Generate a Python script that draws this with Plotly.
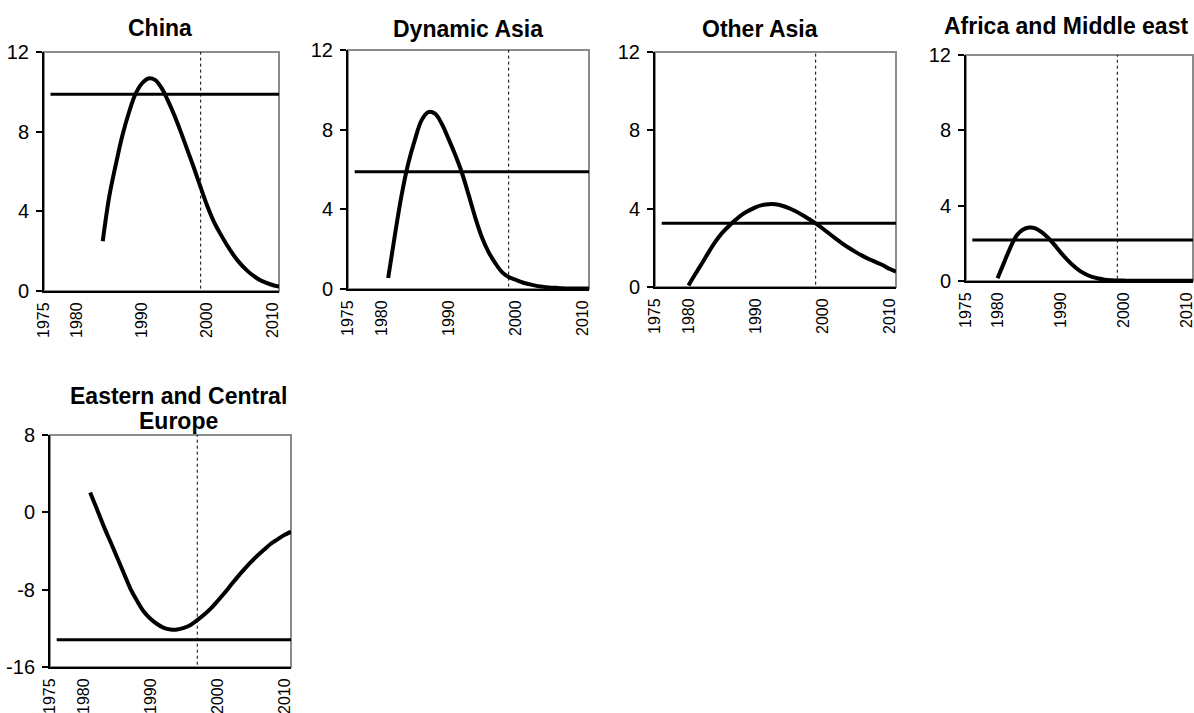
import plotly.graph_objects as go

# ---------------- data ----------------
regions = ["China", "Dynamic Asia", "Other Asia", "Africa and Middle east",
           "Eastern and Central Europe"]

china_years = list(range(1984, 2012))
china_values = [2.5, 4.75, 6.35, 7.8, 8.95, 9.88, 10.42, 10.67, 10.6, 10.2,
                9.55, 8.8, 7.95, 7.05, 6.15, 5.2, 4.28, 3.5, 2.88, 2.32, 1.82,
                1.4, 1.06, 0.78, 0.57, 0.42, 0.3, 0.22]

dynamic_years = list(range(1981, 2012))
dynamic_values = [0.55, 2.7, 4.7, 6.3, 7.5, 8.48, 8.88, 8.8, 8.3, 7.55, 6.75,
                  5.85, 4.75, 3.6, 2.6, 1.85, 1.3, 0.85, 0.6, 0.47, 0.34, 0.25,
                  0.17, 0.12, 0.08, 0.06, 0.04, 0.03, 0.03, 0.02, 0.02]

other_years = list(range(1980, 2012))
other_values = [0.08, 0.65, 1.2, 1.77, 2.3, 2.75, 3.1, 3.42, 3.7, 3.9, 4.07,
                4.18, 4.23, 4.22, 4.15, 4.03, 3.87, 3.68, 3.47, 3.25, 3.0,
                2.73, 2.47, 2.22, 1.99, 1.78, 1.59, 1.42, 1.27, 1.12, 0.93,
                0.78]

africa_years = list(range(1980, 2012))
africa_values = [0.15, 0.95, 1.75, 2.4, 2.72, 2.84, 2.8, 2.6, 2.3, 1.93, 1.52,
                 1.15, 0.82, 0.55, 0.36, 0.22, 0.13, 0.07, 0.04, 0.03, 0.02,
                 0.01, 0.01, 0.01, 0.01, 0.01, 0.01, 0.01, 0.01, 0.01, 0.01,
                 0.01]

europe_years = list(range(1981, 2012))
europe_values = [2.05, 0.35, -1.4, -3.0, -4.62, -6.25, -7.88, -9.15, -10.25,
                 -11.0, -11.55, -11.95, -12.12, -12.12, -11.95, -11.65,
                 -11.15, -10.6, -9.97, -9.2, -8.4, -7.55, -6.7, -5.9, -5.15,
                 -4.47, -3.85, -3.25, -2.8, -2.35, -2.0]

# long-run average (horizontal line) for each region
average_values = [9.88, 5.89, 3.26, 2.18, -13.17]
average_start = 1976
average_end = 2011

# year of the dotted vertical marker
marker_years = [1999, 1999, 1999, 1999, 1997]

x_ticks = [1975, 1980, 1990, 2000, 2010]
x_range = [1975, 2011]
y_ranges = [[0, 12], [0, 12], [0, 12], [0, 12], [-16, 8]]
y_ticks = [[0, 4, 8, 12], [0, 4, 8, 12], [0, 4, 8, 12], [0, 4, 8, 12],
           [-16, -8, 0, 8]]

series_years = [china_years, dynamic_years, other_years, africa_years,
                europe_years]
series_values = [china_values, dynamic_values, other_values, africa_values,
                 europe_values]

# ---------------- layout geometry (pixels) ----------------
W, H = 1194, 713
boxes = [  # left, right, top, bottom
    (44, 279, 52, 291),
    (348, 589, 50, 289),
    (655, 896, 52, 287),
    (966, 1193, 55, 281),
    (50, 291, 435, 667),
]
title_lines = [["China"], ["Dynamic Asia"], ["Other Asia"],
               ["Africa and Middle east"], ["Eastern and Central", "Europe"]]
title_x = [160, 468, 760, 1066, 178]
title_y = [[28], [29], [29], [25.5], [396, 421]]

FONT = "Liberation Sans, Arial, sans-serif"

fig = go.Figure()
shapes = []
annotations = []
layout_axes = {}

for i in range(5):
    n = "" if i == 0 else str(i + 1)
    xa, ya = "x" + n, "y" + n
    l, r, t, b = boxes[i]

    fig.add_trace(go.Scatter(
        x=series_years[i], y=series_values[i], mode="lines",
        line=dict(color="black", width=4, shape="spline", smoothing=1.0),
        xaxis=xa, yaxis=ya, showlegend=False, hoverinfo="skip"))
    fig.add_trace(go.Scatter(
        x=[average_start, average_end],
        y=[average_values[i], average_values[i]], mode="lines",
        line=dict(color="black", width=3),
        xaxis=xa, yaxis=ya, showlegend=False, hoverinfo="skip"))

    layout_axes["xaxis" + n] = dict(
        domain=[l / W, r / W], anchor=ya, range=x_range, automargin=False,
        tickmode="array", tickvals=x_ticks,
        ticktext=[str(v) for v in x_ticks], tickangle=-90,
        ticks="", showgrid=False, zeroline=False,
        showline=True, linecolor="black", linewidth=2,
        ticklabelstandoff=3, ticklabeloverflow="allow",
        tickfont=dict(family=FONT, size=16, color="black"))
    layout_axes["yaxis" + n] = dict(
        domain=[1 - b / H, 1 - t / H], anchor=xa, range=y_ranges[i],
        automargin=False,
        tickmode="array", tickvals=y_ticks[i],
        ticktext=[str(v) for v in y_ticks[i]],
        ticks="outside", ticklen=6, tickwidth=2, tickcolor="black",
        showgrid=False, zeroline=False,
        showline=True, linecolor="black", linewidth=2,
        ticklabelstandoff=3, ticklabeloverflow="allow",
        tickfont=dict(family=FONT, size=20, color="black"))

    # grey frame (top/right visible)
    shapes.append(dict(type="rect", xref=xa + " domain", yref=ya + " domain",
                       x0=0, x1=1, y0=0, y1=1, layer="below",
                       line=dict(color="#8c8c8c", width=2)))
    # dotted marker line
    shapes.append(dict(type="line", xref=xa, yref=ya + " domain",
                       x0=marker_years[i], x1=marker_years[i], y0=0.01,
                       y1=1, layer="above",
                       line=dict(color="black", width=1, dash="dot")))

    for txt, ty in zip(title_lines[i], title_y[i]):
        annotations.append(dict(
            text="<b>" + txt + "</b>", xref="paper", yref="paper",
            x=title_x[i] / W, y=1 - ty / H, xanchor="center",
            yanchor="middle", showarrow=False,
            font=dict(family=FONT, size=23, color="black")))

fig.update_layout(
    width=W, height=H, margin=dict(l=0, r=0, t=0, b=0),
    paper_bgcolor="white", plot_bgcolor="white",
    shapes=shapes, annotations=annotations, showlegend=False,
    **layout_axes)

fig.write_html(
    "out.html",
    config={"displayModeBar": False, "staticPlot": True},
    post_script="document.body.style.margin='0';"
                "document.body.style.overflow='hidden';")
